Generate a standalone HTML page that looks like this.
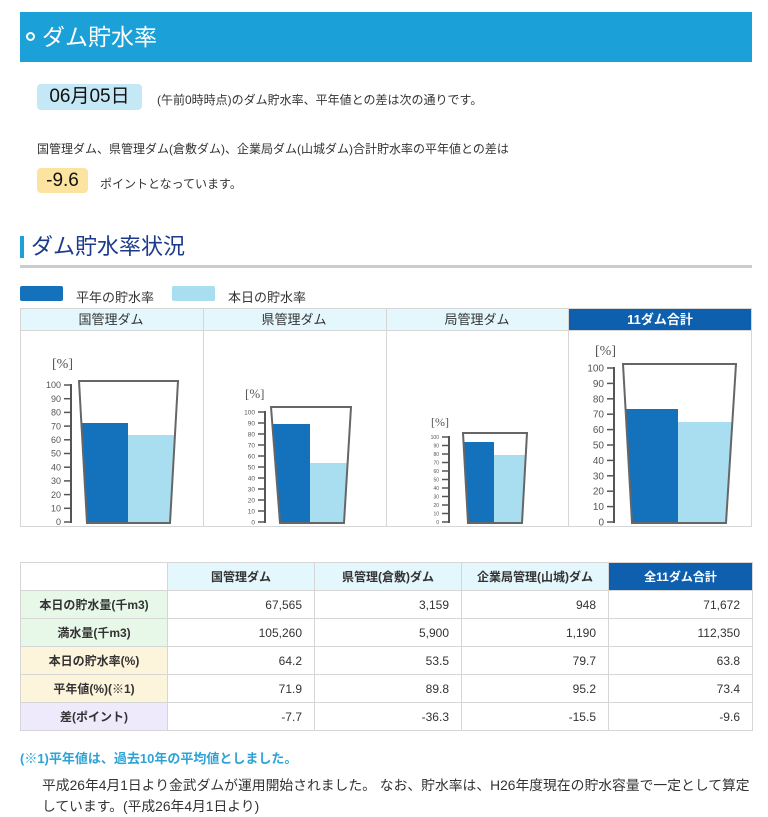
<!DOCTYPE html>
<html><head><meta charset="utf-8"><style>
*{margin:0;padding:0;box-sizing:border-box}
body{width:768px;height:817px;background:#fff;font-family:"Liberation Sans","Noto Sans CJK JP",sans-serif;color:#333;position:relative;overflow:hidden}
.a{position:absolute;white-space:nowrap}
table{position:absolute;left:20px;top:562px;width:732px;border-collapse:collapse;font-size:12px;table-layout:fixed}
td{border:1px solid #d6d6d6;height:28px;padding:0 12px;text-align:right;color:#333}
td.l{text-align:center;font-weight:bold}
tr.h td{background:#e4f7fd;text-align:center;font-weight:bold}
</style></head><body>
<div class="a" style="left:20px;top:12px;width:732px;height:50px;background:#1ba1d8"></div>
<div class="a" style="left:26px;top:32px;width:9px;height:9px;border:2px solid #fff;border-radius:50%"></div>
<div class="a" style="left:42px;top:22px;font-size:23px;color:#fff;line-height:30px">ダム貯水率</div>
<div class="a" style="left:37px;top:84px;width:105px;height:26px;background:#c5e8f6;border-radius:4px;font-size:19px;line-height:26px;text-align:center;color:#111">06月05日</div>
<div class="a" style="left:157px;top:91px;font-size:12px">(午前0時時点)のダム貯水率、平年値との差は次の通りです。</div>
<div class="a" style="left:37px;top:140px;font-size:12px">国管理ダム、県管理ダム(倉敷ダム)、企業局ダム(山城ダム)合計貯水率の平年値との差は</div>
<div class="a" style="left:37px;top:168px;width:51px;height:25px;background:#fde3a0;border-radius:4px;font-size:19px;line-height:25px;text-align:center;color:#111">-9.6</div>
<div class="a" style="left:100px;top:175px;font-size:12px">ポイントとなっています。</div>
<div class="a" style="left:20px;top:236px;width:4px;height:22px;background:#1ba1d8"></div>
<div class="a" style="left:31px;top:232px;font-size:22px;color:#1c3a8c;line-height:30px">ダム貯水率状況</div>
<div class="a" style="left:20px;top:265px;width:732px;height:3px;background:#ccc"></div>
<div class="a" style="left:20px;top:286px;width:43px;height:15px;background:#1472bd;border-radius:2px"></div>
<div class="a" style="left:76px;top:287px;font-size:13px">平年の貯水率</div>
<div class="a" style="left:172px;top:286px;width:43px;height:15px;background:#a8def0;border-radius:2px"></div>
<div class="a" style="left:228px;top:287px;font-size:13px">本日の貯水率</div>
<svg class="a" style="left:0;top:0" width="768" height="540" font-family="Liberation Sans, Noto Sans CJK JP, sans-serif">
<rect x="20.5" y="308.5" width="731" height="218" fill="#fff" stroke="#d6d6d6"/>
<rect x="21" y="309" width="547" height="21" fill="#e4f7fd"/>
<rect x="568" y="309" width="183" height="21" fill="#0e5fae"/>
<line x1="20" y1="330.5" x2="752" y2="330.5" stroke="#d6d6d6"/>
<line x1="203.5" y1="308" x2="203.5" y2="527" stroke="#d6d6d6"/>
<line x1="386.5" y1="308" x2="386.5" y2="527" stroke="#d6d6d6"/>
<line x1="568.5" y1="308" x2="568.5" y2="527" stroke="#d6d6d6"/>
<g font-size="13" text-anchor="middle" fill="#333">
<text x="111" y="324">国管理ダム</text><text x="294" y="324">県管理ダム</text><text x="477" y="324">局管理ダム</text>
<text x="660" y="324" fill="#fff" font-weight="bold">11ダム合計</text></g>
<defs>
<clipPath id="c1"><polygon points="79,381 178,381 170,523 87,523"/></clipPath>
<clipPath id="c2"><polygon points="271,407 351,407 344,523 280,523"/></clipPath>
<clipPath id="c3"><polygon points="463,433 527,433 522,523 468,523"/></clipPath>
<clipPath id="c4"><polygon points="623,364 736,364 726,523 632,523"/></clipPath>
</defs>
<g clip-path="url(#c1)"><rect x="79" y="423" width="49" height="100" fill="#1472bd"/><rect x="128" y="435" width="50" height="90" fill="#a8def0"/></g>
<polygon points="79,381 178,381 170,523 87,523" fill="none" stroke="#666" stroke-width="2"/>
<g clip-path="url(#c2)"><rect x="271" y="424" width="39" height="100" fill="#1472bd"/><rect x="310" y="463" width="41" height="62" fill="#a8def0"/></g>
<polygon points="271,407 351,407 344,523 280,523" fill="none" stroke="#666" stroke-width="2"/>
<g clip-path="url(#c3)"><rect x="463" y="442" width="31" height="82" fill="#1472bd"/><rect x="494" y="455" width="33" height="70" fill="#a8def0"/></g>
<polygon points="463,433 527,433 522,523 468,523" fill="none" stroke="#666" stroke-width="2"/>
<g clip-path="url(#c4)"><rect x="623" y="409" width="55" height="115" fill="#1472bd"/><rect x="678" y="422" width="58" height="103" fill="#a8def0"/></g>
<polygon points="623,364 736,364 726,523 632,523" fill="none" stroke="#666" stroke-width="2"/>
<g stroke="#555" stroke-width="2">
<line x1="71" y1="384" x2="71" y2="523"/><line x1="265" y1="411" x2="265" y2="523"/><line x1="449" y1="436" x2="449" y2="523"/><line x1="614" y1="367" x2="614" y2="523"/>
</g>
<g fill="#555" font-family="Liberation Serif, serif">
<text x="52" y="368" font-size="14">[%]</text><text x="245" y="398" font-size="13">[%]</text><text x="431" y="426" font-size="12">[%]</text><text x="595" y="355" font-size="14">[%]</text>
</g>
<g id="ticks"></g>
</svg>
<table>
<colgroup><col style="width:147px"><col style="width:147px"><col style="width:147px"><col style="width:147px"><col style="width:144px"></colgroup>
<tr class="h"><td style="background:#fff"></td><td>国管理ダム</td><td>県管理(倉敷)ダム</td><td>企業局管理(山城)ダム</td><td style="background:#0e5fae;color:#fff">全11ダム合計</td></tr>
<tr><td class="l" style="background:#e7f8e8">本日の貯水量(千m3)</td><td>67,565</td><td>3,159</td><td>948</td><td>71,672</td></tr>
<tr><td class="l" style="background:#e7f8e8">満水量(千m3)</td><td>105,260</td><td>5,900</td><td>1,190</td><td>112,350</td></tr>
<tr><td class="l" style="background:#fdf4dc">本日の貯水率(%)</td><td>64.2</td><td>53.5</td><td>79.7</td><td>63.8</td></tr>
<tr><td class="l" style="background:#fdf4dc">平年値(%)(※1)</td><td>71.9</td><td>89.8</td><td>95.2</td><td>73.4</td></tr>
<tr><td class="l" style="background:#efeafb">差(ポイント)</td><td>-7.7</td><td>-36.3</td><td>-15.5</td><td>-9.6</td></tr>
</table>
<div class="a" style="left:20px;top:748px;font-size:13px;font-weight:bold;color:#2ea3d6">(※1)平年値は、過去10年の平均値としました。</div>
<div class="a" style="left:42px;top:774px;font-size:13.8px">平成26年4月1日より金武ダムが運用開始されました。 なお、貯水率は、H26年度現在の貯水容量で一定として算定</div>
<div class="a" style="left:42px;top:795px;font-size:13.8px">しています。(平成26年4月1日より)</div>
<script>
var g=document.getElementById('ticks'),ns='http://www.w3.org/2000/svg';
[[71,385,522,9],[265,412,522,6.5],[449,437,522,5],[614,368,522,10]].forEach(function(c){
for(var i=0;i<=10;i++){var y=c[2]-(c[2]-c[1])*i/10;
var l=document.createElementNS(ns,'line');l.setAttribute('x1',c[0]-7);l.setAttribute('x2',c[0]);l.setAttribute('y1',y);l.setAttribute('y2',y);l.setAttribute('stroke','#555');l.setAttribute('stroke-width','1.5');g.appendChild(l);
var t=document.createElementNS(ns,'text');t.setAttribute('x',c[0]-10);t.setAttribute('y',y+c[3]*0.35);t.setAttribute('font-size',c[3]);t.setAttribute('text-anchor','end');t.setAttribute('fill','#555');t.textContent=i*10;g.appendChild(t);}
});
</script>
</body></html>
